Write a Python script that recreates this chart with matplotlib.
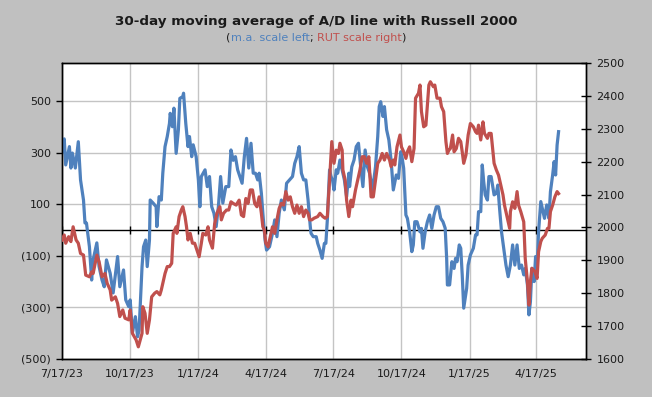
import matplotlib
matplotlib.use("Agg")
import matplotlib.pyplot as plt
import pandas as pd

start = pd.Timestamp("2023-07-17")

# 30-day moving average of the A/D line (left axis), days after 7/17/23
ad_days = [0, 3, 5, 10, 12, 14, 18, 22, 25, 29, 31, 33, 37, 40, 42, 47, 50, 54, 57, 60,
           65, 69, 75, 78, 83, 86, 90, 92, 95, 99, 102, 104, 108, 110, 113, 115, 118, 119, 123, 127,
           128, 131, 134, 136, 139, 142, 145, 146, 149, 151, 154, 157, 159, 163, 164, 167, 170, 172, 175, 177,
           181, 184, 186, 188, 193, 196, 199, 202, 205, 208, 211, 214, 217, 221, 225, 228, 231, 234, 237, 240,
           243, 246, 249, 252, 255, 258, 261, 264, 266, 269, 271, 274, 276, 280, 284, 287, 290, 293, 296, 300,
           303, 307, 311, 314, 317, 320, 323, 326, 329, 332, 335, 336, 339, 343, 345, 348, 351, 354, 356, 358,
           361, 363, 365, 367, 370, 372, 375, 378, 381, 384, 387, 388, 391, 394, 397, 400, 403, 406, 409, 412,
           415, 419, 423, 426, 428, 430, 433, 435, 438, 441, 444, 447, 451, 454, 457, 459, 461, 464, 466, 469,
           472, 474, 476, 479, 483, 485, 487, 490, 493, 496, 499, 502, 505, 508, 511, 514, 517, 519, 520, 523,
           526, 529, 531, 533, 536, 538, 540, 542, 546, 548, 551, 555, 558, 560, 562, 565, 567, 569, 571, 574,
           576, 579, 583, 586, 588, 590, 593, 596, 599, 602, 605, 608, 611, 614, 617, 620, 623, 625, 628, 630,
           632, 634, 637, 639, 641, 643, 646, 648, 651, 654, 657, 659, 662, 664, 666, 668, 670]
ad_ma = [303, 353, 252, 323, 240, 298, 240, 342, 194, 116, 27, 27, -65, -194, -116, -50, -142, -194, -220, -116,
         -168, -244, -103, -220, -155, -271, -297, -271, -399, -336, -414, -388, -142, -65, -39, -142, -39, 116, 104, 90,
         13, 129, 116, 220, 323, 362, 413, 452, 400, 472, 297, 387, 510, 517, 530, 413, 323, 362, 284, 330,
         284, 194, 90, 207, 233, 168, 207, 90, 65, 13, 90, 207, 104, 168, 168, 310, 270, 284, 233, 207,
         181, 284, 355, 240, 336, 220, 220, 194, 220, 142, 65, -39, -78, -65, -13, 39, -26, 65, 116, 78,
         181, 194, 207, 258, 284, 323, 220, 194, 194, 116, 13, -13, -26, -26, -52, -78, -110, -52, -52, 39,
         233, 207, 194, 155, 233, 220, 271, 233, 194, 129, 220, 168, 245, 271, 323, 336, 245, 168, 310, 245,
         220, 155, 245, 362, 478, 497, 440, 478, 388, 349, 271, 155, 213, 200, 303, 278, 239, 58, 45, -7,
         -84, -58, 32, 32, -7, 6, -71, -7, 32, 58, 6, 58, 90, 90, 45, 32, 7, -110, -213, -213,
         -123, -149, -110, -123, -58, -71, -174, -303, -226, -136, -97, -71, -19, -19, 71, 71, 252, 187, 136, 116,
         207, 207, 136, 142, 174, 97, -7, -71, -136, -181, -136, -58, -136, -58, -149, -136, -174, -149, -213, -329,
         -278, -149, -200, -103, -149, -7, 110, 84, 45, 97, 45, 148, 213, 265, 213, 329, 381]

# Russell 2000 close (right axis)
rut_days = [0, 3, 5, 9, 12, 15, 19, 22, 25, 29, 32, 37, 40, 42, 47, 50, 54, 58, 61, 65,
            67, 72, 75, 78, 82, 85, 90, 92, 95, 100, 103, 108, 109, 112, 115, 118, 121, 125, 128, 132,
            134, 139, 142, 145, 148, 150, 154, 155, 158, 161, 163, 166, 168, 170, 173, 176, 179, 182, 185, 188,
            190, 194, 197, 199, 203, 206, 209, 213, 215, 218, 222, 225, 228, 231, 235, 239, 242, 245, 248, 251,
            254, 257, 260, 263, 266, 269, 271, 273, 275, 278, 281, 284, 287, 290, 293, 296, 299, 302, 305, 308,
            311, 314, 317, 320, 323, 326, 329, 332, 334, 337, 340, 345, 348, 352, 355, 358, 361, 364, 367, 370,
            373, 375, 378, 379, 382, 384, 387, 390, 392, 396, 399, 402, 405, 408, 411, 414, 417, 420, 423, 426,
            429, 432, 435, 438, 442, 444, 447, 449, 452, 456, 458, 461, 464, 466, 469, 472, 475, 477, 481, 483,
            485, 488, 491, 493, 495, 497, 501, 503, 506, 510, 512, 515, 518, 520, 522, 524, 527, 529, 532, 535,
            538, 540, 542, 545, 548, 551, 555, 558, 560, 562, 565, 568, 570, 574, 576, 579, 583, 586, 589, 592,
            595, 597, 601, 604, 605, 608, 611, 614, 616, 619, 621, 623, 625, 628, 630, 632, 634, 638, 641, 643,
            646, 648, 652, 655, 657, 659, 662, 665, 668, 670]
rut_close = [1962, 1977, 1952, 1972, 1957, 2002, 1962, 1952, 1921, 1916, 1855, 1850, 1865, 1860, 1916, 1896, 1850, 1860, 1830, 1810,
             1779, 1789, 1769, 1729, 1749, 1724, 1719, 1749, 1678, 1658, 1637, 1678, 1759, 1739, 1678, 1719, 1789, 1800, 1805, 1795,
             1810, 1860, 1881, 1881, 1891, 1982, 2002, 1982, 2033, 2053, 2063, 2033, 2002, 1962, 1982, 1952, 1952, 1931, 1911, 1952,
             1982, 1977, 2002, 1962, 1937, 2012, 2043, 2063, 2023, 2043, 2053, 2053, 2078, 2073, 2068, 2083, 2038, 2033, 2088, 2073,
             2114, 2114, 2073, 2063, 2093, 2043, 2002, 1992, 1952, 1941, 1972, 2002, 1982, 2023, 2058, 2073, 2068, 2109, 2083, 2093,
             2063, 2043, 2068, 2043, 2063, 2033, 2053, 2043, 2023, 2023, 2028, 2033, 2043, 2033, 2028, 2033, 2144, 2261, 2195, 2235,
             2225, 2256, 2235, 2175, 2144, 2083, 2033, 2083, 2063, 2114, 2144, 2175, 2215, 2215, 2195, 2215, 2093, 2093, 2144, 2195,
             2205, 2225, 2205, 2225, 2205, 2185, 2205, 2190, 2245, 2281, 2245, 2230, 2210, 2230, 2245, 2200, 2240, 2393, 2408, 2433,
             2352, 2306, 2311, 2372, 2433, 2443, 2428, 2433, 2393, 2393, 2367, 2352, 2261, 2225, 2235, 2240, 2281, 2230, 2240, 2271,
             2261, 2230, 2195, 2220, 2281, 2316, 2306, 2291, 2286, 2311, 2266, 2321, 2286, 2271, 2286, 2286, 2195, 2175, 2159, 2129,
             2099, 2068, 2028, 1997, 2048, 2078, 2058, 2109, 2068, 2048, 2033, 2017, 1906, 1835, 1764, 1835, 1876, 1866, 1845, 1926,
             1957, 1967, 1977, 1997, 1997, 2048, 2068, 2093, 2109, 2103]

tick_dates = ["2023-07-17", "2023-10-17", "2024-01-17", "2024-04-17",
              "2024-07-17", "2024-10-17", "2025-01-17", "2025-04-17"]
left_ticks = [-500, -300, -100, 100, 300, 500]
right_ticks = list(range(1600, 2501, 100))

blue = "#4f81bd"
red = "#c0504d"
txt = "#1a1a1a"

ad_x = start + pd.to_timedelta(ad_days, unit="D")
rut_x = start + pd.to_timedelta(rut_days, unit="D")
ticks = pd.to_datetime(tick_dates)

fig = plt.figure(figsize=(6.52, 3.97), dpi=100, facecolor="#c0c0c0")
ax = fig.add_axes([62 / 652, 38 / 397, 524 / 652, 296 / 397])
ax2 = ax.twinx()

ax.plot(ad_x, ad_ma, color=blue, lw=2.3, zorder=3, solid_joinstyle="round")
ax2.plot(rut_x, rut_close, color=red, lw=2.3, zorder=3, solid_joinstyle="round")

ax.set_xlim(start, start + pd.Timedelta(days=707))
ax.set_ylim(-500, 647)
ax2.set_ylim(1600, 2500)

ax.set_xticks(ticks)
ax.set_xticklabels([f"{d.month}/{d.day}/{d.year % 100}" for d in ticks])
ax.set_yticks(left_ticks)
ax.set_yticklabels([f"({abs(v)})" if v < 0 else str(v) for v in left_ticks])
ax2.set_yticks(right_ticks)

ax.grid(True, color="#c4c4c4", lw=1, zorder=0)
ax.axhline(0, color="black", lw=1, zorder=2)
# small tick marks on the zero line
ax.plot(ticks, [0] * len(ticks), ls="none", marker="|", ms=6, mew=1, color="black", zorder=2)

ax.tick_params(axis="x", length=0, pad=7, labelsize=8, labelcolor=txt)
ax.tick_params(axis="y", direction="out", length=4, width=1, pad=4, labelsize=8, labelcolor=txt)
ax2.tick_params(axis="y", direction="inout", length=7, width=1, pad=4, labelsize=8, labelcolor=txt)

for a in (ax, ax2):
    for s in a.spines.values():
        s.set_color("black")
        s.set_linewidth(1)

fig.text(316 / 652, 1 - 22 / 397, "30-day moving average of A/D line with Russell 2000",
         ha="center", va="center", fontsize=9.7, fontweight="bold", color=txt)

# two-coloured subtitle, built piece by piece
parts = [("(", txt), ("m.a. scale left", blue), ("; ", txt), ("RUT scale right", red), (")", txt)]
renderer = fig.canvas.get_renderer()
items = []
total = 0
for s, c in parts:
    t = fig.text(0, 1 - 38 / 397, s, ha="left", va="center", fontsize=8, color=c)
    w = t.get_window_extent(renderer).width
    items.append((t, w))
    total += w
x0 = 316 - total / 2
for t, w in items:
    t.set_x(x0 / 652)
    x0 += w

fig.savefig("out.png", dpi=100, facecolor=fig.get_facecolor())
